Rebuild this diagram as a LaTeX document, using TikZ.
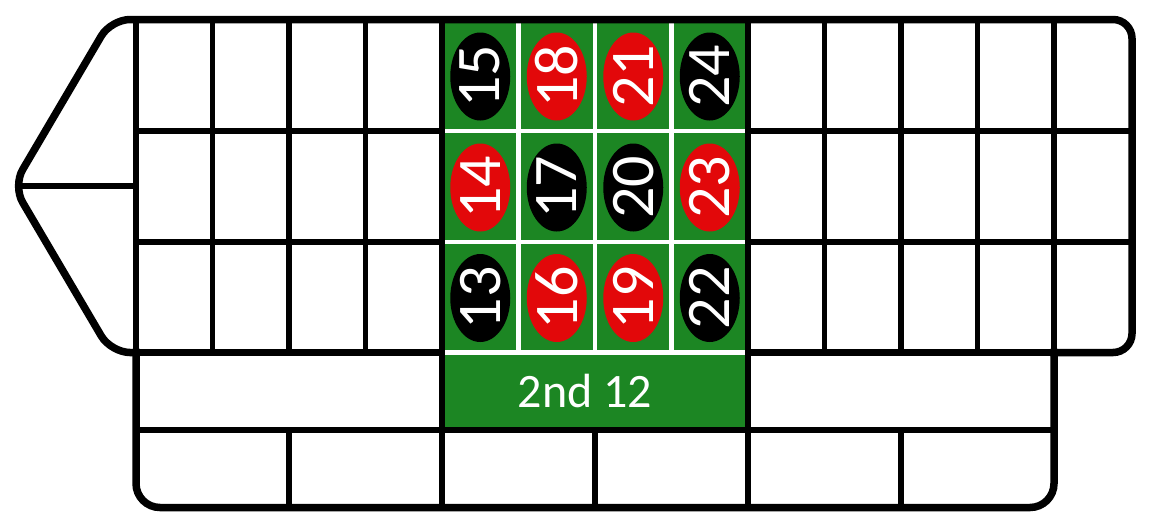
\documentclass[tikz,border=0pt]{standalone}
\usepackage{fontspec}
\setmainfont{Carlito}
\usetikzlibrary{shapes.geometric}
\definecolor{feltgreen}{RGB}{28,134,35}
\definecolor{rred}{RGB}{226,8,10}
\begin{document}
\begin{tikzpicture}[x=0.5pt,y=-0.5pt,
  outerline/.style={line width=3.75pt, line cap=rect, rounded corners=9.5pt},
  innerline/.style={line width=2.75pt},
  whiteline/.style={white, line width=2.25pt},
  oval/.style={ellipse, minimum width=30pt, minimum height=44pt, inner sep=0pt, draw=none},
  numtext/.style={text=white, rotate=90, inner sep=0pt, font=\fontsize{31pt}{31pt}\selectfont},
  dozentext/.style={text=white, inner sep=0pt, font=\fontsize{24pt}{24pt}\selectfont}
]
\useasboundingbox (0,0) rectangle (1150,531);
% key points
\coordinate (tip) at (13,186);
\coordinate (tl) at (111,19.5);
\coordinate (bl) at (111,352.5);
\coordinate (tr) at (1132,19.5);
\coordinate (br) at (1132,352.5);
\coordinate (gridL) at (136,352.5);
\coordinate (gridR) at (1054,352.5);
\coordinate (botR) at (1054,507.5);
\coordinate (botL) at (136,507.5);
% green area
\fill[feltgreen] (442,19.5) rectangle (748,430);
\foreach \x in {518.5,595,671.5} \draw[whiteline] (\x,19.5) -- (\x,352.5);
\foreach \y in {131,242,352.5} \draw[whiteline] (442,\y) -- (748,\y);
% number ovals
\foreach \n/\c/\x/\y in {15/black/480.25/76.5, 18/rred/556.75/76.5, 21/rred/633.25/76.5, 24/black/709.75/76.5,
                         14/rred/480.25/187.5, 17/black/556.75/187.5, 20/black/633.25/187.5, 23/rred/709.75/187.5,
                         13/black/480.25/298, 16/rred/556.75/298, 19/rred/633.25/298, 22/black/709.75/298}
{
  \node[oval, fill=\c] (o\n) at (\x,\y) {};
  \node[numtext] (n\n) at (o\n.center) {\n};
}
\node[dozentext] (dozen) at (585,391) {2nd 12};
% black grid lines
\draw[innerline] (136,19.5) -- (gridL);
\foreach \x in {212.5,289,365.5,824.5,901,977.5,1054} \draw[innerline] (\x,19.5) -- (\x,352.5);
\foreach \x in {442,748} \draw[innerline] (\x,19.5) -- (\x,507.5);
\foreach \x in {289,595,901} \draw[innerline] (\x,430) -- (\x,507.5);
\foreach \y in {131,242} {
  \draw[innerline] (136,\y) -- (442,\y);
  \draw[innerline] (748,\y) -- (1132,\y);
}
\draw[innerline, line width=3.5pt] (gridL) -- (442,352.5);
\draw[innerline, line width=3.5pt] (748,352.5) -- (gridR);
\draw[innerline, line width=3pt] (136,430) -- (1054,430);
\draw[innerline] (20,186) -- (136,186);
% outer border
\draw[outerline] (gridL) -- (bl) -- (tip) -- (tl) -- (tr) -- (br) -- (gridR);
\draw[outerline, rounded corners=12pt] (gridR) -- (botR) -- (botL) -- (gridL);
\end{tikzpicture}
\end{document}
